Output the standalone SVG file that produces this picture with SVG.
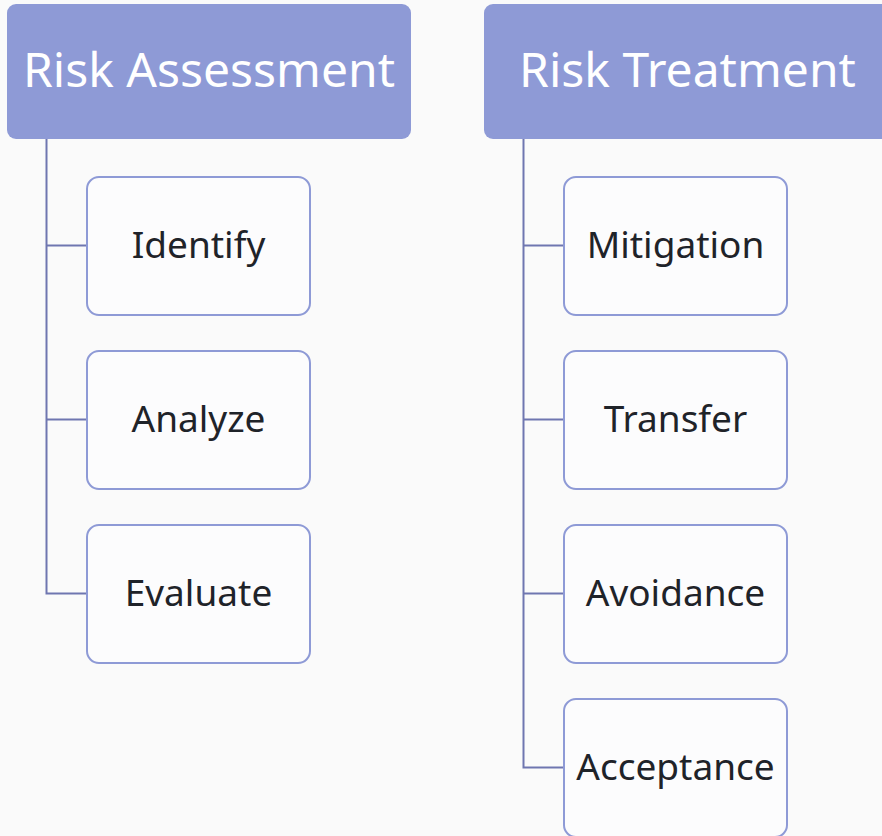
<svg xmlns="http://www.w3.org/2000/svg" width="882" height="836" viewBox="0 0 882 836">
<style>
.hdr{fill:#8e9ad6;}
.hdr-t{fill:#ffffff;font-family:"Noto Sans","Open Sans",sans-serif;font-size:48px;text-anchor:middle;}
.box{fill:#fcfcfd;stroke:#8e9ad6;stroke-width:2;}
.box-t{fill:#1f2329;font-family:"Noto Sans","Open Sans",sans-serif;font-size:37px;text-anchor:middle;}
.conn{fill:none;stroke:#6f76b0;stroke-width:2;}
</style>
<rect width="882" height="836" fill="#fafafa"/>
<g id="connectors">
<path class="conn" d="M46.5 139V593.5H87M46.5 245.5H87M46.5 419.5H87"/>
<path class="conn" d="M523.5 139V767.5H564M523.5 245.5H564M523.5 419.5H564M523.5 593.5H564"/>
</g>
<g id="risk-assessment">
<rect class="hdr" x="7" y="4" width="404" height="135" rx="9"/>
<text class="hdr-t" x="209" y="87">Risk Assessment</text>
</g>
<g id="risk-treatment">
<rect class="hdr" x="484" y="4" width="407" height="135" rx="9"/>
<text class="hdr-t" x="687.5" y="87">Risk Treatment</text>
</g>
<g id="identify">
<rect class="box" x="87" y="177" width="223" height="138" rx="12"/>
<text class="box-t" x="198.5" y="258">Identify</text>
</g>
<g id="analyze">
<rect class="box" x="87" y="351" width="223" height="138" rx="12"/>
<text class="box-t" x="198.5" y="432">Analyze</text>
</g>
<g id="evaluate">
<rect class="box" x="87" y="525" width="223" height="138" rx="12"/>
<text class="box-t" x="198.5" y="606">Evaluate</text>
</g>
<g id="mitigation">
<rect class="box" x="564" y="177" width="223" height="138" rx="12"/>
<text class="box-t" x="675.5" y="258">Mitigation</text>
</g>
<g id="transfer">
<rect class="box" x="564" y="351" width="223" height="138" rx="12"/>
<text class="box-t" x="675.5" y="432">Transfer</text>
</g>
<g id="avoidance">
<rect class="box" x="564" y="525" width="223" height="138" rx="12"/>
<text class="box-t" x="675.5" y="606">Avoidance</text>
</g>
<g id="acceptance">
<rect class="box" x="564" y="699" width="223" height="138" rx="12"/>
<text class="box-t" x="675.5" y="780">Acceptance</text>
</g>
</svg>
